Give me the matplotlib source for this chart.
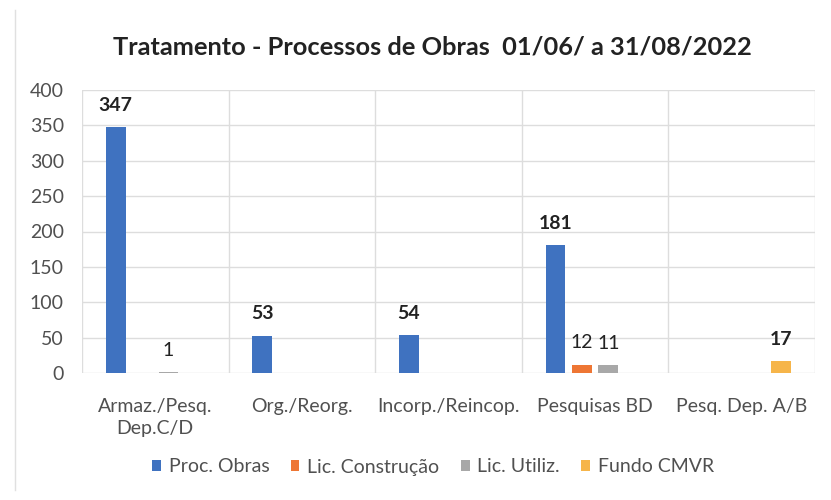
import matplotlib
matplotlib.use("Agg")
import matplotlib.pyplot as plt
import numpy as np
from matplotlib.patches import Patch

plt.rcParams['font.family'] = ['Lato', 'DejaVu Sans']

categories = ["Armaz./Pesq.\nDep.C/D", "Org./Reorg.", "Incorp./Reincop.", "Pesquisas BD", "Pesq. Dep. A/B"]
series_names = ["Proc. Obras", "Lic. Construção", "Lic. Utiliz.", "Fundo CMVR"]
proc_obras = [347, 53, 54, 181, 0]
lic_construcao = [0, 0, 0, 12, 0]
lic_utiliz = [1, 0, 0, 11, 0]
fundo_cmvr = [0, 0, 0, 0, 17]
yticks = [0, 50, 100, 150, 200, 250, 300, 350, 400]
title = "Tratamento - Processos de Obras  01/06/ a 31/08/2022"

colors = ["#3F72C0", "#EE7634", "#A8A8A8", "#F6B54A"]
bold_flags = [True, False, False, True]
all_series = [proc_obras, lic_construcao, lic_utiliz, fundo_cmvr]

fig = plt.figure(figsize=(8.31, 5.0), dpi=100)
W, H = 831, 500
ax = fig.add_axes([82 / W, 1 - 373 / H, (815 - 82) / W, (373 - 90) / H])

x = np.arange(len(categories))
step = 0.18
width = 0.136
for i, (vals, c, b) in enumerate(zip(all_series, colors, bold_flags)):
    off = (i - 1.5) * step
    ax.bar(x + off, vals, width=width, color=c, zorder=3)
    for xi, v in zip(x, vals):
        if v > 0:
            ax.annotate(str(v), (xi + off, v), xytext=(0, 15.5), textcoords="offset points",
                        ha="center", va="center", fontsize=14,
                        fontweight="bold" if b else "normal", color="#222222")

ax.set_xlim(-0.5, len(categories) - 0.5)
ax.set_ylim(0, 400)
ax.set_yticks(yticks)
ax.set_xticks(x)
ax.set_xticklabels(categories, fontsize=14, color="#505050", linespacing=1.35)
ax.tick_params(axis="y", labelsize=14, labelcolor="#505050", length=0, pad=13)
ax.tick_params(axis="x", length=0, pad=18)
ax.set_xticks(np.arange(-0.5, len(categories)), minor=True)
ax.tick_params(axis="x", which="minor", length=0)
ax.grid(axis="y", which="major", color="#DDDDDD", linewidth=1, zorder=0)
ax.grid(axis="x", which="minor", color="#DDDDDD", linewidth=1, zorder=0)
ax.grid(axis="x", which="major", visible=False)
for s in ax.spines.values():
    s.set_visible(False)

fig.text(432 / W, 1 - 47 / H, title, ha="center", va="center", fontsize=18.3,
         fontweight="bold", color="#222222")

handles = [Patch(facecolor=c, edgecolor="none") for c in colors]
fig.legend(handles, series_names, loc="center", bbox_to_anchor=(433 / W, 1 - 467 / H),
           ncol=4, frameon=False, fontsize=14, handlelength=0.45, handleheight=0.55,
           handletextpad=0.4, columnspacing=1.1, labelcolor="#505050")

fig.add_artist(plt.Line2D([15 / W, 15 / W], [0.02, 0.98], color="#E0E0E0", linewidth=1))

fig.savefig("out.png", dpi=100)
